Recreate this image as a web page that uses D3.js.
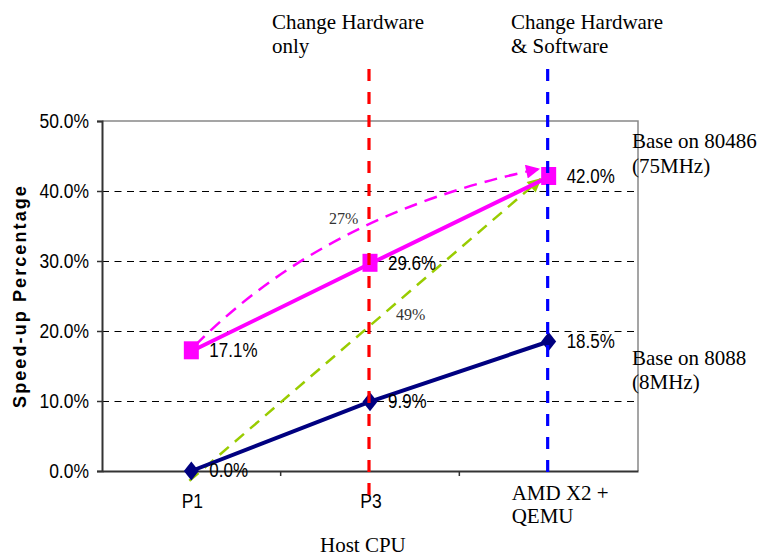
<!DOCTYPE html>
<html>
<head>
<meta charset="utf-8">
<script src="https://cdn.jsdelivr.net/npm/d3@7"></script>
<style>
  html, body { margin: 0; padding: 0; background: #fff; }
  svg { display: block; }
</style>
</head>
<body>
<svg id="chart" width="758" height="557"></svg>
<script>
// Host CPUs on the x axis
const categories = ["P1", "P3", "AMD X2 +|QEMU"];
// Speed-up percentages, two baselines
const base80486 = [17.1, 29.6, 42.0];
const base8088 = [0.0, 9.9, 18.5];
// Axis ticks
const yTicks = [0, 10, 20, 30, 40, 50];
// Overall gains shown by the annotation arrows
const gainLabels = ["27%", "49%"];

const SANS = "Arial, 'Liberation Sans', sans-serif";
const SERIF = "'Times New Roman', 'Liberation Serif', serif";
const STRETCH = "scale(1,1.15)";

const svg = d3.select("#chart");
const plot = { left: 102, right: 638, top: 121, bottom: 471 };

const x = d3.scalePoint().domain(categories).range([plot.left, plot.right]).padding(0.5);
const band = d3.scaleBand().domain(categories).range([plot.left, plot.right]);
const y = d3.scaleLinear().domain([0, 50]).range([plot.bottom, plot.top]);

// Plot frame: top and right edges
svg.append("path")
  .attr("d", `M${plot.left},${y(50)}H${plot.right}V${plot.bottom}`)
  .attr("fill", "none").attr("stroke", "#888").attr("stroke-width", 1.5);

// Horizontal dashed gridlines
svg.append("g").selectAll("line")
  .data(yTicks.filter(d => d > 0 && d < 50))
  .join("line")
  .attr("x1", plot.left).attr("x2", plot.right - 4)
  .attr("y1", d => y(d) + 0.5).attr("y2", d => y(d) + 0.5)
  .attr("stroke", "#000").attr("stroke-width", 1)
  .attr("stroke-dasharray", "7,5.5");

// Y axis
const yAxis = svg.append("g")
  .attr("transform", `translate(${plot.left},0)`)
  .call(d3.axisLeft(y).tickValues(yTicks).tickFormat(d => d.toFixed(1) + "%").tickSize(5).tickPadding(8));
yAxis.select(".domain").attr("stroke", "#333").attr("stroke-width", 2);
yAxis.selectAll(".tick line").attr("stroke", "#333").attr("stroke-width", 1.5);
yAxis.selectAll(".tick text")
  .attr("font-family", SANS).attr("font-size", 17.5).attr("fill", "#000")
  .attr("dy", "0.3em").attr("transform", STRETCH);

// X axis line with ticks on category boundaries
const xAxis = svg.append("g")
  .attr("transform", `translate(0,${plot.bottom})`)
  .call(d3.axisBottom(x).tickSize(0).tickFormat(""));
xAxis.select(".domain").attr("stroke", "#333").attr("stroke-width", 2);
xAxis.selectAll(".tick").remove();
xAxis.selectAll("line.bound")
  .data(categories.slice(1))
  .join("line")
  .attr("class", "bound")
  .attr("x1", d => band(d)).attr("x2", d => band(d))
  .attr("y1", 0).attr("y2", 5)
  .attr("stroke", "#333").attr("stroke-width", 1.5);

// Category labels
categories.forEach((c, i) => {
  const parts = c.split("|");
  if (parts.length === 1) {
    svg.append("text")
      .attr("transform", `translate(${x(c) + 1},${plot.bottom + 37}) ${STRETCH}`)
      .attr("text-anchor", "middle")
      .attr("font-family", SANS).attr("font-size", 17.5)
      .text(c);
  } else {
    const t = svg.append("text")
      .attr("x", x(c) - 37).attr("y", plot.bottom + 29)
      .attr("font-family", SERIF).attr("font-size", 21);
    parts.forEach((p, k) => t.append("tspan").attr("x", x(c) - 37).attr("dy", k ? 23 : 0).text(p));
  }
});

// Axis titles
svg.append("text")
  .attr("x", 320).attr("y", 552)
  .attr("font-family", SERIF).attr("font-size", 21)
  .text("Host CPU");
svg.append("text")
  .attr("transform", `translate(26,${(plot.top + plot.bottom) / 2}) rotate(-90)`)
  .attr("text-anchor", "middle")
  .attr("font-family", SANS).attr("font-size", 18).attr("font-weight", "bold")
  .attr("letter-spacing", 2.1)
  .text("Speed-up Percentage");

// Right-side series notes
const notes = [
  { v: base80486[2], lines: ["Base on 80486", "(75MHz)"], dy: -29 },
  { v: base8088[2], lines: ["Base on 8088", "(8MHz)"], dy: 23 }
];
notes.forEach(n => {
  const t = svg.append("text").attr("font-family", SERIF).attr("font-size", 21);
  n.lines.forEach((s, k) => t.append("tspan")
    .attr("x", 632).attr("y", y(n.v) + n.dy + k * 24.5).text(s));
});

// Arrow heads
const defs = svg.append("defs");
[["pinkHead", "#ff00ff"], ["greenHead", "#99cc00"]].forEach(([id, col]) => {
  defs.append("marker")
    .attr("id", id).attr("viewBox", "0 0 10 10")
    .attr("refX", 9).attr("refY", 5)
    .attr("markerWidth", 20).attr("markerHeight", 14)
    .attr("markerUnits", "userSpaceOnUse")
    .attr("orient", "auto")
    .append("path").attr("d", "M0,0L10,5L0,10Z").attr("fill", col);
});

// Curved arrow from 80486 baseline P1 to AMD value
const p0 = [x(categories[0]) + 4, y(base80486[0]) - 6];
const p2 = [x(categories[2]) - 10, y(base80486[2]) - 8];
const ctrl = [x(categories[0]) + 0.76 * x.step(), y(36.9)];
svg.append("path")
  .attr("d", `M${p0[0]},${p0[1]}Q${ctrl[0]},${ctrl[1]} ${p2[0]},${p2[1]}`)
  .attr("fill", "none").attr("stroke", "#ff00ff").attr("stroke-width", 2.5)
  .attr("stroke-dasharray", "13,8")
  .attr("marker-end", "url(#pinkHead)");

// Straight arrow from 8088 baseline P1 to AMD value on 80486 baseline
svg.append("line")
  .attr("x1", x(categories[0]) - 2).attr("y1", y(-1.4))
  .attr("x2", x(categories[2]) - 8).attr("y2", y(base80486[2]) + 2)
  .attr("stroke", "#99cc00").attr("stroke-width", 2.5)
  .attr("stroke-dasharray", "12,8")
  .attr("marker-end", "url(#greenHead)");

svg.append("text")
  .attr("x", 329).attr("y", 224)
  .attr("font-family", SERIF).attr("font-size", 16).attr("fill", "#333")
  .text(gainLabels[0]);
svg.append("text")
  .attr("x", 396).attr("y", 320)
  .attr("font-family", SERIF).attr("font-size", 16).attr("fill", "#333")
  .text(gainLabels[1]);

// Series lines
const line = d3.line().x((d, i) => x(categories[i])).y(d => y(d));
svg.append("path").datum(base8088)
  .attr("d", line).attr("fill", "none")
  .attr("stroke", "#000080").attr("stroke-width", 4);
svg.append("path").datum(base80486)
  .attr("d", line).attr("fill", "none")
  .attr("stroke", "#ff00ff").attr("stroke-width", 4);

// Markers: diamonds for 8088, squares for 80486
svg.append("g").selectAll("path")
  .data(base8088)
  .join("path")
  .attr("transform", (d, i) => `translate(${x(categories[i])},${y(d)})`)
  .attr("d", "M0,-9.5L7.5,0L0,9.5L-7.5,0Z")
  .attr("fill", "#000080");
svg.append("g").selectAll("rect")
  .data(base80486)
  .join("rect")
  .attr("x", (d, i) => x(categories[i]) - 7.5)
  .attr("y", d => y(d) - 10)
  .attr("width", 15).attr("height", 18)
  .attr("fill", "#ff00ff");

// Value labels
[base8088, base80486].forEach(series => {
  svg.append("g").selectAll("text")
    .data(series)
    .join("text")
    .attr("transform", (d, i) => `translate(${x(categories[i]) + 18},${y(d)}) ${STRETCH}`)
    .attr("dy", "0.31em")
    .attr("font-family", SANS).attr("font-size", 17)
    .text(d => d.toFixed(1) + "%");
});

// Vertical dashed markers for hardware / software changes, drawn over the series
const markers = [
  { cat: categories[1], color: "#ff0000", bottom: 495, textX: 272, text: ["Change Hardware", "only"] },
  { cat: categories[2], color: "#0000ff", bottom: 474, textX: 511, text: ["Change Hardware", "& Software"] }
];
markers.forEach(m => {
  svg.append("line")
    .attr("x1", x(m.cat) - 1).attr("x2", x(m.cat) - 1)
    .attr("y1", 69).attr("y2", m.bottom)
    .attr("stroke", m.color).attr("stroke-width", 3.2)
    .attr("stroke-dasharray", "12,11");
  const t = svg.append("text")
    .attr("font-family", SERIF).attr("font-size", 21);
  m.text.forEach((s, k) => t.append("tspan")
    .attr("x", m.textX).attr("y", 29 + k * 24).text(s));
});
</script>
</body>
</html>
